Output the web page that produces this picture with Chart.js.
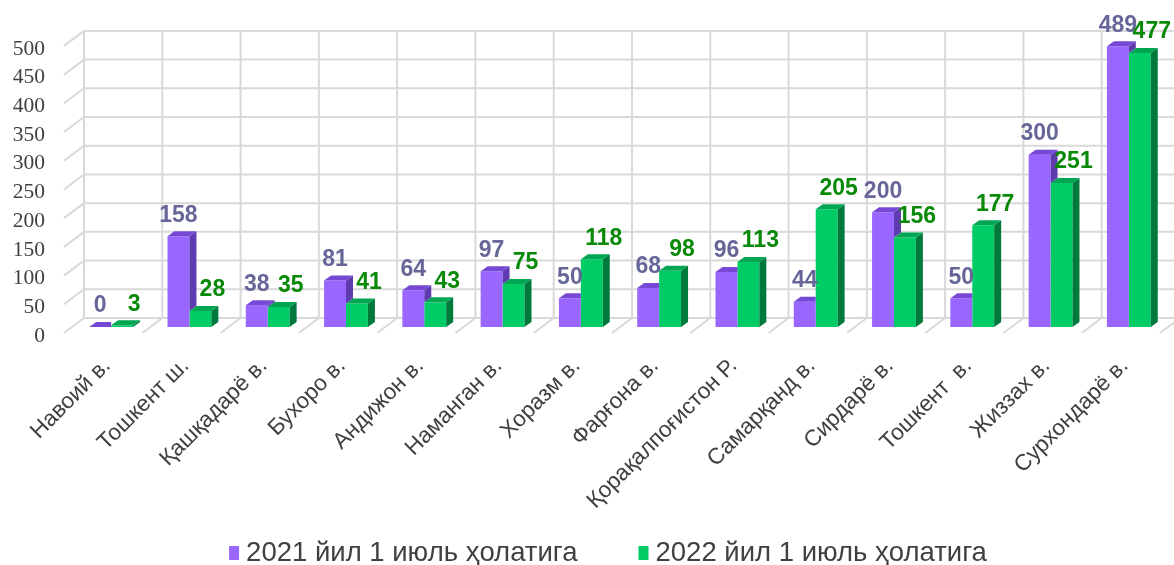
<!DOCTYPE html>
<html>
<head>
<meta charset="utf-8">
<script src="https://cdn.jsdelivr.net/npm/chart.js@4"></script>
<style>
  html, body { margin: 0; padding: 0; background: #fff; }
  #wrap { width: 1174px; height: 565px; }
</style>
</head>
<body>
<div id="wrap"><canvas id="chart"></canvas></div>
<script>
const regions = ["Навоий в.", "Тошкент ш.", "Қашқадарё в.", "Бухоро в.", "Андижон в.", "Наманган в.", "Хоразм в.",
  "Фарғона в.", "Қорақалпоғистон Р.", "Самарқанд в.", "Сирдарё в.", "Тошкент  в.", "Жиззах в.", "Сурхондарё в."];
const values2021 = [0, 158, 38, 81, 64, 97, 50, 68, 96, 44, 200, 50, 300, 489];
const values2022 = [3, 28, 35, 41, 43, 75, 118, 98, 113, 205, 156, 177, 251, 477];
const seriesNames = ["2021 йил 1 июль ҳолатига", "2022 йил 1 июль ҳолатига"];

// --- 3D LOOK ---
const barDepth = { dx: 7, dy: -5 };     // top / side face of each bar
const wallBack = { dx: 12, dy: -9 };    // back wall behind the bars
const wallFront = { dx: -8, dy: 6 };    // front edge where the axis labels sit
const faces = [
  { top: "#7548d6", side: "#5f3bb0", label: "#666699" },
  { top: "#00a652", side: "#007a3c", label: "#088a08" }
];

function poly(ctx, pts, color) {
  ctx.fillStyle = color;
  ctx.beginPath();
  ctx.moveTo(pts[0][0], pts[0][1]);
  for (let k = 1; k < pts.length; k++) ctx.lineTo(pts[k][0], pts[k][1]);
  ctx.closePath();
  ctx.fill();
}

const wallPlugin = {
  id: "wall",
  beforeDatasetsDraw(chart) {
    const { ctx } = chart;
    const xs = chart.scales.x, ys = chart.scales.y;
    const step = xs.width / regions.length;
    const y0 = ys.getPixelForValue(0), yTop = ys.getPixelForValue(500);
    ctx.save();
    ctx.strokeStyle = "#d9d9d9";
    ctx.lineWidth = 2;
    ctx.beginPath();
    // horizontal lines on the back wall + diagonals on the left wall
    ys.ticks.forEach(t => {
      const y = ys.getPixelForValue(t.value);
      ctx.moveTo(xs.left + wallBack.dx, y + wallBack.dy);
      ctx.lineTo(xs.right + wallBack.dx + step, y + wallBack.dy);
      ctx.moveTo(xs.left + wallFront.dx, y + wallFront.dy);
      ctx.lineTo(xs.left + wallBack.dx, y + wallBack.dy);
    });
    // vertical lines on the back wall + diagonals on the floor
    for (let i = 0; i <= regions.length + 1; i++) {
      const x = xs.left + step * i;
      ctx.moveTo(x + wallBack.dx, y0 + wallBack.dy);
      ctx.lineTo(x + wallBack.dx, yTop + wallBack.dy);
      if (i > 0) {
        ctx.moveTo(x + wallFront.dx, y0 + wallFront.dy);
        ctx.lineTo(x + wallBack.dx, y0 + wallBack.dy);
      }
    }
    ctx.stroke();
    ctx.restore();
  },
  // green (index 1) is drawn first, purple (index 0) last
  afterDatasetDraw(chart, args) {
    const { ctx } = chart;
    const f = faces[args.index];
    const other = chart.getDatasetMeta(1).data;
    const { dx, dy } = barDepth;
    ctx.save();
    args.meta.data.forEach((bar, i) => {
      const { x, y, base, width } = bar.getProps(["x", "y", "base", "width"], true);
      const l = x - width / 2, r = x + width / 2;
      if (args.index === 1) {
        poly(ctx, [[r, y], [r + dx, y + dy], [r + dx, base + dy], [r, base]], f.side);
        poly(ctx, [[l, y], [l + dx, y + dy], [r + dx, y + dy], [r, y]], f.top);
        return;
      }
      const gy = other[i].y;
      if (gy > y) {
        // purple taller: side face shows above the green bar
        poly(ctx, [[r, y], [r + dx, y + dy], [r + dx, gy + dy], [r, gy]], f.side);
        poly(ctx, [[l, y], [l + dx, y + dy], [r + dx, y + dy], [r, y]], f.top);
      } else {
        ctx.save();
        ctx.beginPath();
        ctx.rect(l - 1, 0, r - l + 1, chart.height);
        ctx.clip();
        poly(ctx, [[l, y], [l + dx, y + dy], [r + dx, y + dy], [r, y]], f.top);
        ctx.restore();
      }
    });
    ctx.restore();
  },
  afterDatasetsDraw(chart) {
    const { ctx } = chart;
    ctx.save();
    ctx.font = "bold 23px 'Liberation Sans', Arial, sans-serif";
    ctx.textAlign = "center";
    ctx.textBaseline = "middle";
    chart.data.datasets.forEach((ds, di) => {
      const meta = chart.getDatasetMeta(di);
      ctx.fillStyle = faces[di].label;
      meta.data.forEach((bar, i) => {
        const shift = di === 0 ? 0 : 12;
        ctx.fillText(String(ds.data[i]), bar.x + shift, bar.y - 21);
      });
    });
    ctx.restore();
  },
  // legend under the chart, same spacing as the original
  afterDraw(chart) {
    const { ctx } = chart;
    const sets = chart.data.datasets;
    ctx.save();
    ctx.font = "27.5px 'Liberation Sans', Arial, sans-serif";
    ctx.textBaseline = "middle";
    const widths = sets.map(ds => 17 + ctx.measureText(ds.label).width);
    const gap = 61;
    const total = widths.reduce((a, b) => a + b, 0) + gap * (sets.length - 1);
    let x = 608 - total / 2;
    const y = 553;
    sets.forEach((ds, i) => {
      ctx.fillStyle = ds.backgroundColor;
      ctx.fillRect(x, y - 7, 10, 14);
      ctx.fillStyle = "#404040";
      ctx.fillText(ds.label, x + 17, y);
      x += widths[i] + gap;
    });
    ctx.restore();
  }
};

new Chart(document.getElementById("chart"), {
  type: "bar",
  data: {
    labels: regions,
    datasets: [
      { label: seriesNames[0], data: values2021, backgroundColor: "#9966ff" },
      { label: seriesNames[1], data: values2022, backgroundColor: "#00cc66" }
    ]
  },
  options: {
    responsive: true,
    maintainAspectRatio: false,
    animation: false,
    events: [],
    layout: { padding: { top: 38, right: 2, left: 0, bottom: 0 } },
    datasets: { bar: { categoryPercentage: 0.56, barPercentage: 1.0 } },
    scales: {
      x: {
        grid: { display: false, drawTicks: false },
        border: { display: false },
        ticks: {
          autoSkip: false, maxRotation: 45, minRotation: 45, padding: 26, labelOffset: -4,
          color: "#404040", font: { family: "'Liberation Sans', Arial, sans-serif", size: 22.5 }
        },
        afterFit: s => { s.height = 238; }
      },
      y: {
        min: 0, max: 500,
        grid: { display: false, drawTicks: false },
        border: { display: false },
        ticks: {
          stepSize: 50, autoSkip: false, padding: 27, labelOffset: 9,
          color: "#404040", font: { family: "'Liberation Serif', 'Times New Roman', serif", size: 21.5 }
        },
        afterFit: s => { s.width = 72; }
      }
    },
    plugins: {
      tooltip: { enabled: false },
      legend: { display: false }
    }
  },
  plugins: [wallPlugin]
});
</script>
</body>
</html>
